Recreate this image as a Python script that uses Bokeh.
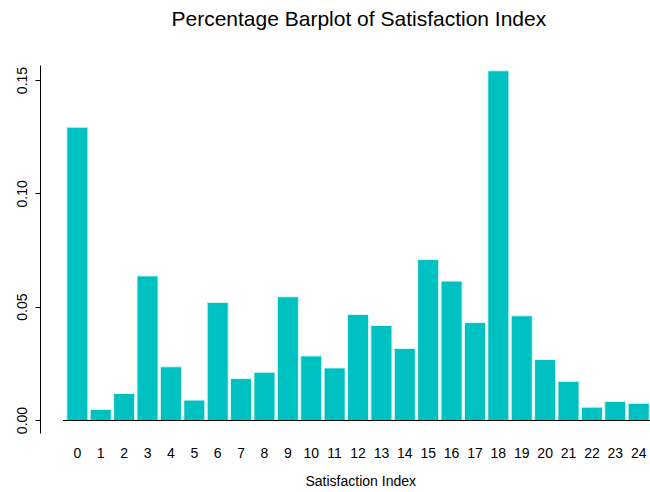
from bokeh.plotting import figure
from bokeh.models import Range1d, FixedTicker, ColumnDataSource, Title
from bokeh.embed import file_html
from bokeh.resources import INLINE

# ---- data ----
categories = [str(i) for i in range(25)]
values = [0.1294, 0.0049, 0.0119, 0.0638, 0.0237, 0.0090, 0.0521, 0.0185,
          0.0213, 0.0546, 0.0285, 0.0232, 0.0468, 0.0419, 0.0318, 0.0710,
          0.0615, 0.0432, 0.1543, 0.0462, 0.0269, 0.0173, 0.0059, 0.0084,
          0.0076]
y_ticks = [0.0, 0.05, 0.10, 0.15]
y_tick_labels = ["0.00", "0.05", "0.10", "0.15"]
title_text = "Percentage Barplot of Satisfaction Index"
x_label = "Satisfaction Index"

xs = list(range(len(categories)))
src = ColumnDataSource(dict(x=xs, top=values))

FONT = "Liberation Sans"

p = figure(width=650, height=492, output_backend="svg", toolbar_location=None,
           x_range=Range1d(-1.576, 24.505), y_range=Range1d(-0.005735, 0.15662),
           min_border_left=40, min_border_right=0, min_border_top=65,
           min_border_bottom=59)

p.vbar(x="x", top="top", bottom=0, width=0.9, source=src,
       fill_color="#00C1C1", line_color="#d8f6f6", line_width=1)

# baseline
p.segment(x0=[-0.62], y0=[0], x1=[25.5], y1=[0], line_color="black", line_width=1)

p.grid.visible = False
p.outline_line_color = None
p.background_fill_color = "white"
p.border_fill_color = "white"


def spacer(gap):
    return Title(text=" ", text_font_size="2px", standoff=gap)


# title (spacer between frame and title)
p.add_layout(spacer(30), "above")
p.add_layout(Title(text=title_text, align="left", offset=131,
                   vertical_align="top", standoff=0,
                   text_font=FONT, text_font_size="21px",
                   text_font_style="normal", text_color="black"), "above")

# x axis
xa = p.xaxis[0]
xa.ticker = FixedTicker(ticks=xs)
xa.major_label_overrides = {i: c for i, c in zip(xs, categories)}
xa.axis_line_color = None
xa.major_tick_line_color = None
xa.minor_tick_line_color = None
xa.major_label_standoff = 8
xa.major_label_text_font = FONT
xa.major_label_text_font_size = "14px"
xa.major_label_text_color = "black"

# x-axis title below the tick labels
p.add_layout(spacer(6), "below")
p.add_layout(Title(text=x_label, align="left", offset=265,
                   vertical_align="bottom", standoff=0,
                   text_font=FONT, text_font_size="14px",
                   text_font_style="normal", text_color="black"), "below")

# y axis
ya = p.yaxis[0]
ya.ticker = FixedTicker(ticks=y_ticks)
ya.major_label_overrides = {t: l for t, l in zip(y_ticks, y_tick_labels)}
ya.axis_line_color = "black"
ya.axis_line_width = 1
ya.major_tick_line_color = "black"
ya.major_tick_out = 5
ya.major_tick_in = 0
ya.minor_tick_line_color = None
ya.major_label_orientation = "vertical"
ya.major_label_standoff = 8
ya.major_label_text_font = FONT
ya.major_label_text_font_size = "14px"
ya.major_label_text_color = "black"

open("out.html", "w").write(file_html(p, INLINE))
